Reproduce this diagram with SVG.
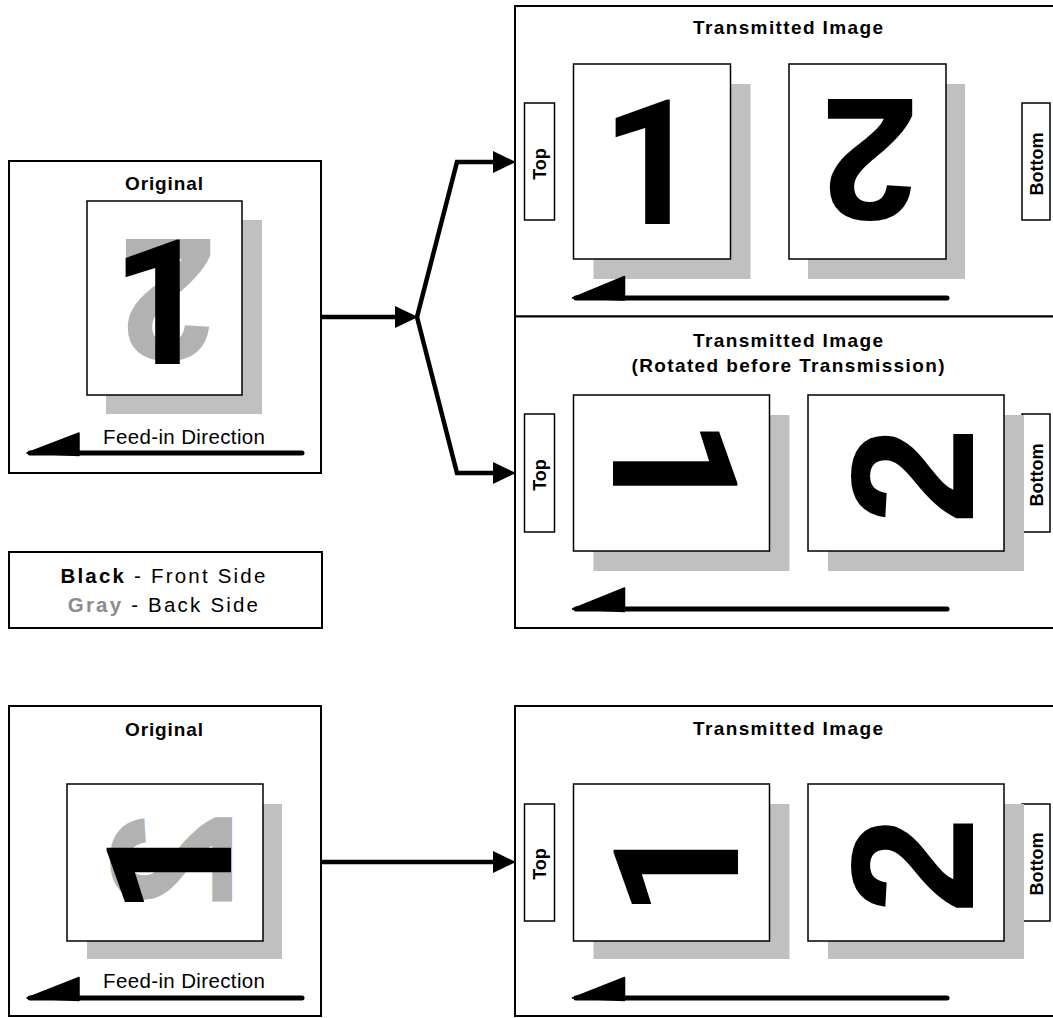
<svg xmlns="http://www.w3.org/2000/svg" width="1053" height="1018" viewBox="0 0 1053 1018">
<style>
.bg{fill:#fff}
.box{fill:#fff;stroke:#000;stroke-width:2}
.page{fill:#fff;stroke:#000;stroke-width:1.5}
.shadow{fill:#c0c0c0}
.lbl{fill:#fff;stroke:#000;stroke-width:1.5}
.title{font-family:"Liberation Sans",Arial,sans-serif;font-weight:bold;font-size:19px;text-anchor:middle;fill:#000}
.side{font-family:"Liberation Sans",Arial,sans-serif;font-weight:bold;font-size:18px;text-anchor:middle;fill:#000}
.feedtxt{font-family:"Liberation Sans",Arial,sans-serif;font-size:20.5px;text-anchor:middle;fill:#000}
.leg{font-family:"Liberation Sans",Arial,sans-serif;font-size:20.5px;letter-spacing:2.2px;text-anchor:middle;fill:#000}
.big{font-family:"Liberation Sans",Arial,sans-serif;font-weight:bold;font-size:175px;text-anchor:middle}
.one{font-family:Roboto,"Noto Sans",sans-serif;font-weight:bold;font-size:175px;text-anchor:middle}
.front{fill:#000}
.back{fill:#b2b2b2}
.feed{stroke:#000;stroke-width:5;stroke-linecap:round;fill:none}
.head{fill:#000;stroke:#000;stroke-width:1.5;stroke-linejoin:round}
.conn{stroke:#000;stroke-width:4.5;fill:none;stroke-linejoin:miter}
</style>
<defs>
<marker id="ah" markerUnits="userSpaceOnUse" markerWidth="23" markerHeight="22" viewBox="0 0 22 21" refX="0" refY="10.5" orient="auto">
<path d="M0,0 L22,10.5 L0,21 z" fill="#000"/>
</marker>
</defs>
<rect class="bg" x="0" y="0" width="1053" height="1018"/>

<g id="original-top">
<rect class="box" x="9" y="161" width="312" height="312"/>
<text class="title" x="164" y="190" textLength="78" lengthAdjust="spacing">Original</text>
<rect class="shadow" x="106" y="220" width="156" height="194"/>
<rect class="page" x="87" y="201" width="155" height="194"/>
<g transform="translate(167.5,301.5) rotate(180)"><text class="big back" x="0" y="63">2</text></g>
<g transform="translate(154.5,301.5)"><text class="one front" x="7" y="62.2">1</text></g>
<text class="feedtxt" x="184" y="444" textLength="162" lengthAdjust="spacing">Feed-in Direction</text>
<line class="feed" x1="30" y1="453" x2="302" y2="453"/>
<polygon class="head" points="27,453 79,433 79,455.5"/>
</g>

<g id="legend">
<rect class="box" x="9" y="552" width="313" height="76"/>
<text class="leg" x="164" y="583"><tspan font-weight="bold">Black</tspan> - Front Side</text>
<text class="leg" x="164" y="612"><tspan font-weight="bold" fill="#8c8c8c">Gray</tspan> - Back Side</text>
</g>

<g id="transmitted-top">
<rect class="box" x="515" y="6" width="560" height="310.5"/>
<text class="title" x="788" y="34" textLength="190" lengthAdjust="spacing">Transmitted Image</text>
<rect class="lbl" x="524.5" y="103" width="30" height="117"/>
<text class="side" transform="translate(545.5,164) rotate(-90)">Top</text>
<rect class="lbl" x="1022" y="103" width="28" height="117"/>
<text class="side" transform="translate(1042.5,164) rotate(-90)">Bottom</text>
<rect class="shadow" x="593.5" y="84" width="157" height="195"/>
<rect class="page" x="573.5" y="64" width="157" height="195"/>
<rect class="shadow" x="808" y="84" width="157" height="195"/>
<rect class="page" x="789" y="64" width="157" height="195"/>
<g transform="translate(644.5,161.5)"><text class="one front" x="7" y="62.2">1</text></g>
<g transform="translate(869.5,161.5) rotate(180)"><text class="big front" x="0" y="63">2</text></g>
<line class="feed" x1="576" y1="298" x2="947" y2="298"/>
<polygon class="head" points="572.5,298 624.5,276.5 624.5,300"/>
</g>

<g id="transmitted-rotated">
<rect class="box" x="515" y="316.5" width="560" height="311.5"/>
<text class="title" x="788" y="347" textLength="190" lengthAdjust="spacing">Transmitted Image</text>
<text class="title" x="788" y="372" textLength="313" lengthAdjust="spacing">(Rotated before Transmission)</text>
<rect class="lbl" x="524.5" y="414" width="30" height="118"/>
<text class="side" transform="translate(545.5,475) rotate(-90)">Top</text>
<rect class="lbl" x="1022" y="414" width="28" height="118"/>
<text class="side" transform="translate(1042.5,475) rotate(-90)">Bottom</text>
<rect class="shadow" x="593.5" y="415" width="196" height="156"/>
<rect class="page" x="573.5" y="395" width="196" height="156"/>
<rect class="shadow" x="828" y="415" width="196" height="156"/>
<rect class="page" x="808" y="395" width="196" height="156"/>
<g transform="translate(675.5,460.5) rotate(90)"><text class="one front" x="7" y="62.2">1</text></g>
<g transform="translate(910,475.5) rotate(-90)"><text class="big front" x="0" y="63">2</text></g>
<line class="feed" x1="576" y1="609" x2="947" y2="609"/>
<polygon class="head" points="572.5,609 624.5,588 624.5,611.5"/>
</g>

<g id="original-bottom">
<rect class="box" x="9" y="706" width="312" height="310"/>
<text class="title" x="164" y="736" textLength="78" lengthAdjust="spacing">Original</text>
<rect class="shadow" x="87" y="804" width="195" height="155"/>
<rect class="page" x="67" y="784" width="196" height="157"/>
<g transform="translate(168.5,860) scale(1,-1) rotate(-90)"><text class="big back" x="0" y="63">2</text></g>
<g transform="translate(168.5,873) rotate(-90)"><text class="one front" x="7" y="62.2">1</text></g>
<text class="feedtxt" x="184" y="988" textLength="162" lengthAdjust="spacing">Feed-in Direction</text>
<line class="feed" x1="30" y1="998" x2="302" y2="998"/>
<polygon class="head" points="27,998 79,977.5 79,1000.5"/>
</g>

<g id="transmitted-bottom">
<rect class="box" x="515" y="706" width="560" height="310"/>
<text class="title" x="788" y="735" textLength="190" lengthAdjust="spacing">Transmitted Image</text>
<rect class="lbl" x="524.5" y="804" width="30" height="117"/>
<text class="side" transform="translate(545.5,864) rotate(-90)">Top</text>
<rect class="lbl" x="1022" y="804" width="28" height="117"/>
<text class="side" transform="translate(1042.5,864) rotate(-90)">Bottom</text>
<rect class="shadow" x="593.5" y="804" width="196" height="155"/>
<rect class="page" x="573.5" y="784" width="196" height="157"/>
<rect class="shadow" x="828" y="804" width="196" height="155"/>
<rect class="page" x="808" y="784" width="196" height="157"/>
<g transform="translate(675.5,875) rotate(-90)"><text class="one front" x="7" y="62.2">1</text></g>
<g transform="translate(910,865) rotate(-90)"><text class="big front" x="0" y="63">2</text></g>
<line class="feed" x1="576" y1="998" x2="947" y2="998"/>
<polygon class="head" points="572.5,998 624.5,977.5 624.5,1000.5"/>
</g>

<g id="connectors">
<path class="conn" d="M321,317 L395,317" marker-end="url(#ah)"/>
<path class="conn" d="M417,317 L457,162 L493,162" marker-end="url(#ah)"/>
<path class="conn" d="M417,317 L457,473 L493,473" marker-end="url(#ah)"/>
<path class="conn" d="M321,862 L493,862" marker-end="url(#ah)"/>
</g>
</svg>
